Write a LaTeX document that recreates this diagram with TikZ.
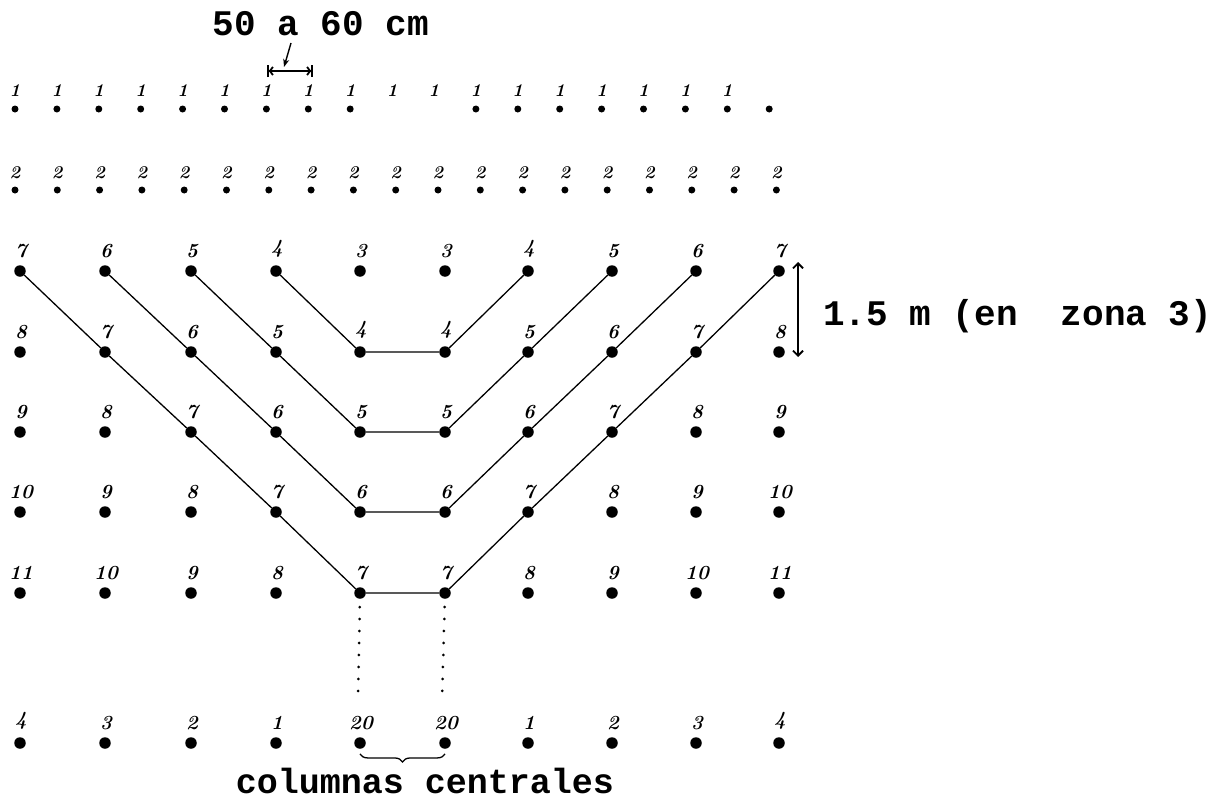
\documentclass[tikz,border=0pt]{standalone}
\usepackage{fontspec}
\newfontfamily\typefont{Liberation Mono}
\usetikzlibrary{arrows.meta,decorations.pathreplacing}

\begin{document}
\begin{tikzpicture}[x=1pt,y=-1pt,
  post/.style={circle,fill=black,inner sep=0pt,minimum size=11.5pt},
  peg/.style={circle,fill=black,inner sep=0pt,minimum size=7pt},
  num/.style={font=\fontsize{20}{20}\selectfont\bfseries\itshape,inner sep=0pt,anchor=south},
  smallnum/.style={font=\fontsize{18}{18}\selectfont\bfseries\itshape,inner sep=0pt},
  caption/.style={font=\typefont\bfseries\fontsize{36}{40}\selectfont,inner sep=0pt},
  link/.style={line width=1.3pt},
  dotline/.style={line width=3pt,line cap=round,dash pattern=on 0pt off 12pt},
  dimline/.style={line width=1.8pt},
]
\useasboundingbox (0,0) rectangle (1225,800);

% first row of seedlings
\foreach \i in {0,...,18}{
  \pgfmathsetmacro\xx{15+41.9*\i}
  \ifnum\i<18 \node[smallnum] (ra-l\i) at (\xx,91) {1};\fi
  \ifnum\i=9 \else\ifnum\i=10 \else
    \node[peg] (ra-\i) at (\xx,109) {};
  \fi\fi
}

% second row of seedlings
\foreach \i in {0,...,18}{
  \pgfmathsetmacro\xx{15+42.3*\i}
  \node[smallnum] (rb-l\i) at (\xx,173) {2};
  \node[peg] (rb-\i) at (\xx,190) {};
}

% main grid of posts
\foreach \x [count=\i from 0] in {20,105,191,276,360,445,528,612,696,779}{
  \foreach \y/\r in {271/1,352/2,432/3,512/4,593/5,743/6}{
    \node[post] (g-\i-\r) at (\x,\y) {};
  }
}

% numbers written above the posts
\foreach \r/\labs in {1/{7,6,5,4,3,3,4,5,6,7},
                      2/{8,7,6,5,4,4,5,6,7,8},
                      3/{9,8,7,6,5,5,6,7,8,9},
                      4/{10,9,8,7,6,6,7,8,9,10},
                      5/{11,10,9,8,7,7,8,9,10,11},
                      6/{4,3,2,1,20,20,1,2,3,4}}{
  \foreach \t [count=\i from 0] in \labs{
    \node[num] (l-\i-\r) at ([xshift=1pt,yshift=7pt]g-\i-\r.north) {\t};
  }
}

% joined posts of equal number
\draw[link] (g-0-1) -- (g-1-2) -- (g-2-3) -- (g-3-4) -- (g-4-5) -- (g-5-5)
            -- (g-6-4) -- (g-7-3) -- (g-8-2) -- (g-9-1);
\draw[link] (g-1-1) -- (g-2-2) -- (g-3-3) -- (g-4-4) -- (g-5-4)
            -- (g-6-3) -- (g-7-2) -- (g-8-1);
\draw[link] (g-2-1) -- (g-3-2) -- (g-4-3) -- (g-5-3) -- (g-6-2) -- (g-7-1);
\draw[link] (g-3-1) -- (g-4-2) -- (g-5-2) -- (g-6-1);

% central columns continue downwards
\coordinate (dl) at (358,700);
\coordinate (dr) at (442,700);
\draw[dotline,shorten <=14pt] (g-4-5.center) -- (dl);
\draw[dotline,shorten <=14pt] (g-5-5.center) -- (dr);

% brace under the central columns
\draw[decorate,decoration={brace,mirror,amplitude=8pt},line width=1.3pt]
  ([yshift=-5pt]g-4-6.south) -- ([yshift=-5pt]g-5-6.south);
\node[caption,anchor=base,font=\typefont\bfseries\fontsize{35}{40}\selectfont] (central) at (425,793) {columnas centrales};

% spacing along the row
\node[caption,anchor=base] (spacing) at (321,36) {50 a 60 cm};
\coordinate (hl) at (267,71);
\coordinate (hr) at (313,71);
\draw[dimline,{Bar[width=12pt]Straight Barb[length=3pt,width=8pt]}-{Straight Barb[length=3pt,width=8pt]Bar[width=12pt]}] (hl) -- (hr);
\coordinate (ha) at (291,43);
\coordinate (hb) at (284,67);
\draw[line width=1.4pt,-{Stealth[length=8pt,width=6pt]}] (ha) -- (hb);

% spacing between rows
\coordinate (vt) at (798,262);
\coordinate (vb) at (798,357);
\draw[dimline,{Straight Barb[length=5pt,width=10pt]}-{Straight Barb[length=5pt,width=10pt]}] (vt) -- (vb);
\node[caption,anchor=base west] (zona) at (823,325) {1.5 m (en\ \ zona 3)};
\end{tikzpicture}
\end{document}
